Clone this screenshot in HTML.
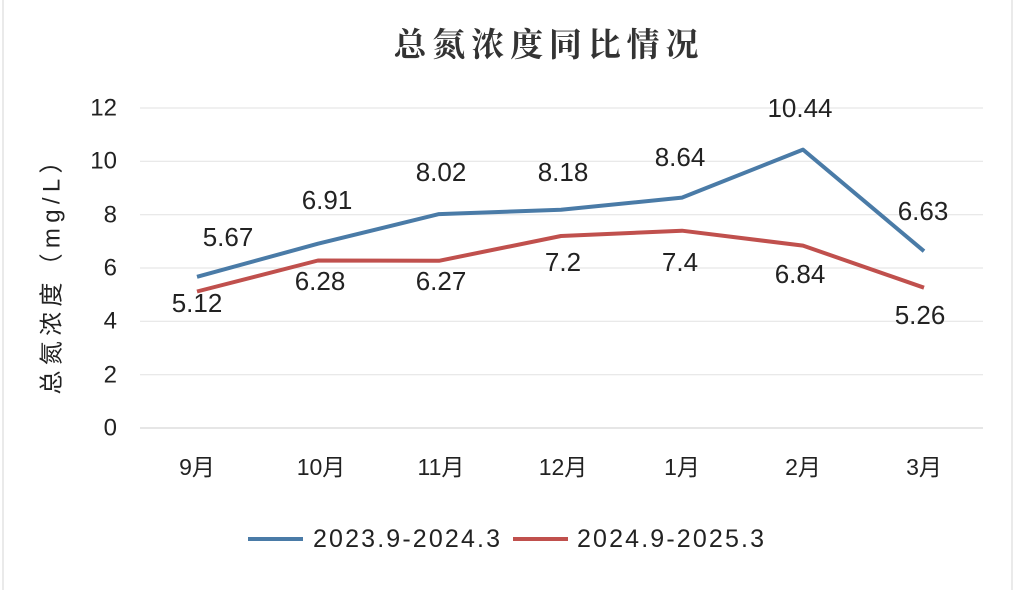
<!DOCTYPE html>
<html><head><meta charset="utf-8"><style>
body{margin:0;background:#fff;}
svg{display:block;font-family:"Liberation Sans","Noto Sans CJK SC",sans-serif;}
</style></head><body>
<svg width="1016" height="590" viewBox="0 0 1016 590">
<rect x="0" y="0" width="1016" height="590" fill="#fff"/>
<line x1="3" y1="0" x2="3" y2="590" stroke="#e4e4e4" stroke-width="1.5"/>
<line x1="1012" y1="0" x2="1012" y2="590" stroke="#e4e4e4" stroke-width="1.5"/>
<text x="546" y="56" text-anchor="middle" font-size="33" font-weight="bold" fill="#333" textLength="305" font-family="'Noto Serif CJK SC','Noto Sans CJK SC',sans-serif">总氮浓度同比情况</text>
<g stroke="#e6e6e6" stroke-width="1.2">
<line x1="140" y1="108" x2="983" y2="108"/>
<line x1="140" y1="161.3" x2="983" y2="161.3"/>
<line x1="140" y1="214.7" x2="983" y2="214.7"/>
<line x1="140" y1="268" x2="983" y2="268"/>
<line x1="140" y1="321.3" x2="983" y2="321.3"/>
<line x1="140" y1="374.7" x2="983" y2="374.7"/>
<line x1="140" y1="428" x2="983" y2="428" stroke="#d8d8d8"/>
</g>
<g font-size="24" fill="#222" text-anchor="end" dominant-baseline="central">
<text x="117" y="108">12</text><text x="117" y="161">10</text><text x="117" y="215">8</text>
<text x="117" y="268">6</text><text x="117" y="321">4</text><text x="117" y="375">2</text><text x="117" y="428">0</text>
</g>
<text transform="translate(52,272) rotate(-90)" text-anchor="middle" dominant-baseline="central" font-size="24" fill="#222" textLength="245">总氮浓度（mg/L）</text>
<g font-size="23" fill="#222" text-anchor="middle">
<text x="197" y="475">9月</text><text x="321" y="475">10月</text><text x="441" y="475">11月</text>
<text x="563" y="475">12月</text><text x="682" y="475">1月</text><text x="803" y="475">2月</text><text x="924" y="475">3月</text>
</g>
<polyline fill="none" stroke="#4a7ba7" stroke-width="4" stroke-linejoin="round" points="197,276.8 318,243.7 439,214.1 561,209.8 682,197.6 803,149.6 924,251.2"/>
<polyline fill="none" stroke="#c0504d" stroke-width="4" stroke-linejoin="round" points="197,291.5 318,260.5 439,260.8 561,236 682,230.7 803,245.6 924,287.7"/>
<g font-size="26" fill="#222" text-anchor="middle" dominant-baseline="central">
<text x="228" y="237">5.67</text><text x="327" y="200">6.91</text><text x="441" y="172">8.02</text>
<text x="563" y="172">8.18</text><text x="680" y="157">8.64</text><text x="800" y="108">10.44</text><text x="923" y="211">6.63</text>
<text x="197" y="303">5.12</text><text x="320" y="281">6.28</text><text x="441" y="281">6.27</text>
<text x="563" y="262">7.2</text><text x="680" y="262">7.4</text><text x="800" y="274">6.84</text><text x="920" y="315">5.26</text>
</g>
<line x1="248" y1="539" x2="303" y2="539" stroke="#4a7ba7" stroke-width="4"/>
<text x="313" y="539" font-size="25" fill="#222" dominant-baseline="central" textLength="187">2023.9-2024.3</text>
<line x1="513" y1="539" x2="568" y2="539" stroke="#c0504d" stroke-width="4"/>
<text x="577" y="539" font-size="25" fill="#222" dominant-baseline="central" textLength="187">2024.9-2025.3</text>
</svg>
</body></html>
